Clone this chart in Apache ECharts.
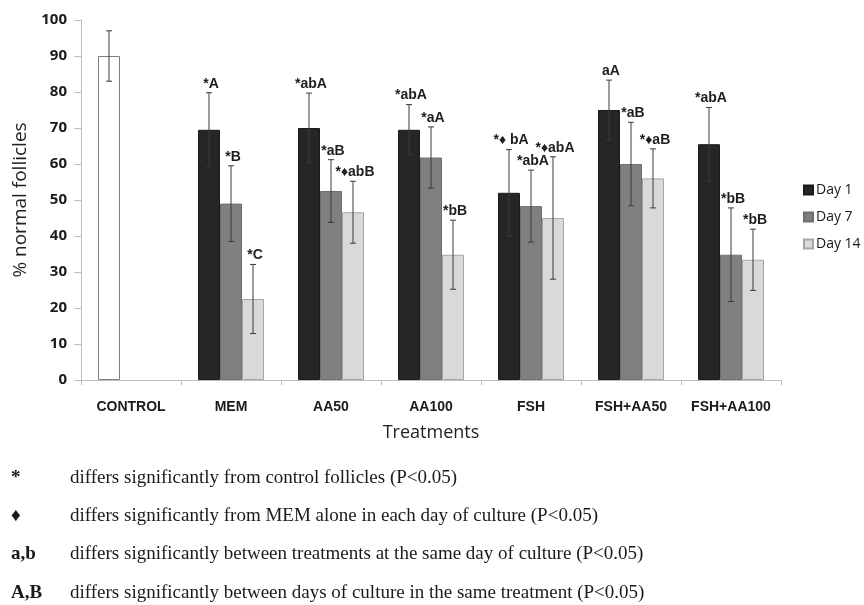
<!DOCTYPE html>
<html>
<head>
<meta charset="utf-8">
<script src="https://cdn.jsdelivr.net/npm/echarts@6/dist/echarts.min.js"></script>
<style>
  html, body { margin: 0; padding: 0; background: #ffffff; }
  #chart { width: 864px; height: 605px; }
</style>
</head>
<body>
<div id="chart"></div>
<script>
// Treatment groups along the x axis
const categories = ['CONTROL', 'MEM', 'AA50', 'AA100', 'FSH', 'FSH+AA50', 'FSH+AA100'];

// Mean % normal follicles per day of culture (control sits in the Day 1 slot)
const day1Values = [90, 69.5, 70, 69.5, 52, 75, 65.5];
const day7Values = [null, 49, 52.5, 61.8, 48.3, 60, 34.8];
const day14Values = [null, 22.5, 46.6, 34.8, 45, 56, 33.4];

// Standard deviations (error bar half-lengths)
const day1Errors = [7, 10.3, 9.7, 7, 12, 8.3, 10.2];
const day7Errors = [null, 10.5, 8.7, 8.5, 10, 11.6, 13];
const day14Errors = [null, 9.6, 8.6, 9.6, 17, 8.2, 8.5];

// Significance marks above each error bar
const day1Marks = ['', '*A', '*abA', '*abA', '*\u2666 bA', 'aA', '*abA'];
const day7Marks = ['', '*B', '*aB', '*aA', '*abA', '*aB', '*bB'];
const day14Marks = ['', '*C', '*\u2666abB', '*bB', '*\u2666abA', '*\u2666aB', '*bB'];

// Footnote legend for the significance marks
const noteSymbols = ['*', '\u2666', 'a,b', 'A,B'];
const noteTexts = [
  'differs significantly from control follicles (P<0.05)',
  'differs significantly from MEM alone in each day of culture (P<0.05)',
  'differs significantly between treatments at the same day of culture (P<0.05)',
  'differs significantly between days of culture in the same treatment (P<0.05)'
];

const seriesNames = ['Day 1', 'Day 7', 'Day 14'];
const allValues = [day1Values, day7Values, day14Values];
const allErrors = [day1Errors, day7Errors, day14Errors];
const allMarks = [day1Marks, day7Marks, day14Marks];

const BAR_FRACTION = 0.22;

// Rows for the error-bar layer: [category, mean, sd, slot, mark]
const errorRows = [];
allValues.forEach((vals, d) => {
  vals.forEach((v, i) => {
    if (v == null) return;
    errorRows.push([i, v, allErrors[d][i], d, allMarks[d][i]]);
  });
});

const chart = echarts.init(document.getElementById('chart'), null, { renderer: 'canvas' });

const barStyles = [
  { color: '#262626', borderColor: '#1a1a1a', borderWidth: 1 },
  { color: '#808080', borderColor: '#6e6e6e', borderWidth: 1 },
  { color: '#d9d9d9', borderColor: '#a6a6a6', borderWidth: 1 }
];

const barSeries = seriesNames.map((name, d) => ({
  name: name,
  type: 'bar',
  barWidth: (BAR_FRACTION * 100) + '%',
  barGap: '0%',
  itemStyle: barStyles[d],
  data: allValues[d].map((v, i) => {
    if (d === 0 && i === 0) {
      return { value: v, itemStyle: { color: '#ffffff', borderColor: '#7f7f7f', borderWidth: 1 } };
    }
    return v;
  }),
  z: 2
}));

const errorSeries = {
  type: 'custom',
  name: 'errors',
  z: 5,
  silent: true,
  data: errorRows,
  encode: { x: 0, y: 1 },
  renderItem: function (params, api) {
    const cat = api.value(0);
    const mean = api.value(1);
    const sd = api.value(2);
    const slot = api.value(3);
    const mark = errorRows[params.dataIndex][4];
    const bandW = api.size([1, 0])[0];
    const bw = bandW * BAR_FRACTION;
    const c = api.coord([cat, mean]);
    const x = c[0] + (slot - 1) * bw;
    const yTop = api.coord([cat, mean + sd])[1];
    const yBot = api.coord([cat, mean - sd])[1];
    const cap = 3;
    const line = { stroke: '#3a3a3a', lineWidth: 1 };
    const children = [
      { type: 'line', shape: { x1: x, y1: yTop, x2: x, y2: yBot }, style: line },
      { type: 'line', shape: { x1: x - cap, y1: yTop, x2: x + cap, y2: yTop }, style: line },
      { type: 'line', shape: { x1: x - cap, y1: yBot, x2: x + cap, y2: yBot }, style: line }
    ];
    if (mark) {
      children.push({
        type: 'text',
        x: x + 2,
        y: yTop - 2,
        style: {
          text: mark,
          fill: '#1e1e1e',
          font: 'bold 14px "Liberation Sans", Arial, sans-serif',
          align: 'center',
          verticalAlign: 'bottom'
        }
      });
    }
    return { type: 'group', children: children };
  }
};

const noteGraphics = [];
const noteRowY = [480, 518, 556, 595];
noteSymbols.forEach((s, i) => {
  noteGraphics.push({
    type: 'text',
    left: 11,
    top: noteRowY[i] - 11,
    style: {
      text: s,
      fill: '#1a1a1a',
      font: 'bold 19px "Liberation Serif", "Times New Roman", serif'
    }
  });
  noteGraphics.push({
    type: 'text',
    left: 70,
    top: noteRowY[i] - 11,
    style: {
      text: noteTexts[i],
      fill: '#1a1a1a',
      font: '19px "Liberation Serif", "Times New Roman", serif'
    }
  });
});

chart.setOption({
  animation: false,
  backgroundColor: '#ffffff',
  grid: { left: 81, right: 83, top: 20, bottom: 225, containLabel: false },
  legend: {
    data: seriesNames,
    orient: 'vertical',
    left: 798,
    top: 178,
    itemWidth: 9,
    itemHeight: 9,
    itemGap: 13,
    icon: 'rect',
    textStyle: { fontFamily: '"Open Sans", sans-serif', fontSize: 14, color: '#1a1a1a', padding: [0, 0, 0, -2] }
  },
  xAxis: {
    type: 'category',
    data: categories,
    name: 'Treatments',
    nameLocation: 'middle',
    nameGap: 44,
    nameTextStyle: { fontFamily: '"Open Sans", sans-serif', fontSize: 18, color: '#222' },
    axisLine: { lineStyle: { color: '#bfbfbf', width: 1 } },
    axisTick: { show: true, length: 5, lineStyle: { color: '#bfbfbf' } },
    axisLabel: {
      fontFamily: '"Liberation Sans", Arial, sans-serif',
      fontWeight: 'bold',
      fontSize: 14,
      color: '#1a1a1a',
      margin: 20,
      interval: 0
    },
    splitLine: { show: false }
  },
  yAxis: {
    type: 'value',
    min: 0,
    max: 100,
    interval: 10,
    name: '% normal follicles',
    nameLocation: 'middle',
    nameGap: 48,
    nameRotate: 90,
    nameTextStyle: { fontFamily: '"Open Sans", sans-serif', fontSize: 19, color: '#222' },
    axisLine: { show: true, lineStyle: { color: '#bfbfbf', width: 1 } },
    axisTick: { show: true, length: 7, lineStyle: { color: '#bfbfbf' } },
    axisLabel: {
      fontFamily: '"Open Sans", sans-serif',
      fontWeight: 'bold',
      fontSize: 15,
      color: '#1a1a1a',
      margin: 14
    },
    splitLine: { show: false }
  },
  series: barSeries.concat([errorSeries]),
  graphic: noteGraphics
});
</script>
</body>
</html>
